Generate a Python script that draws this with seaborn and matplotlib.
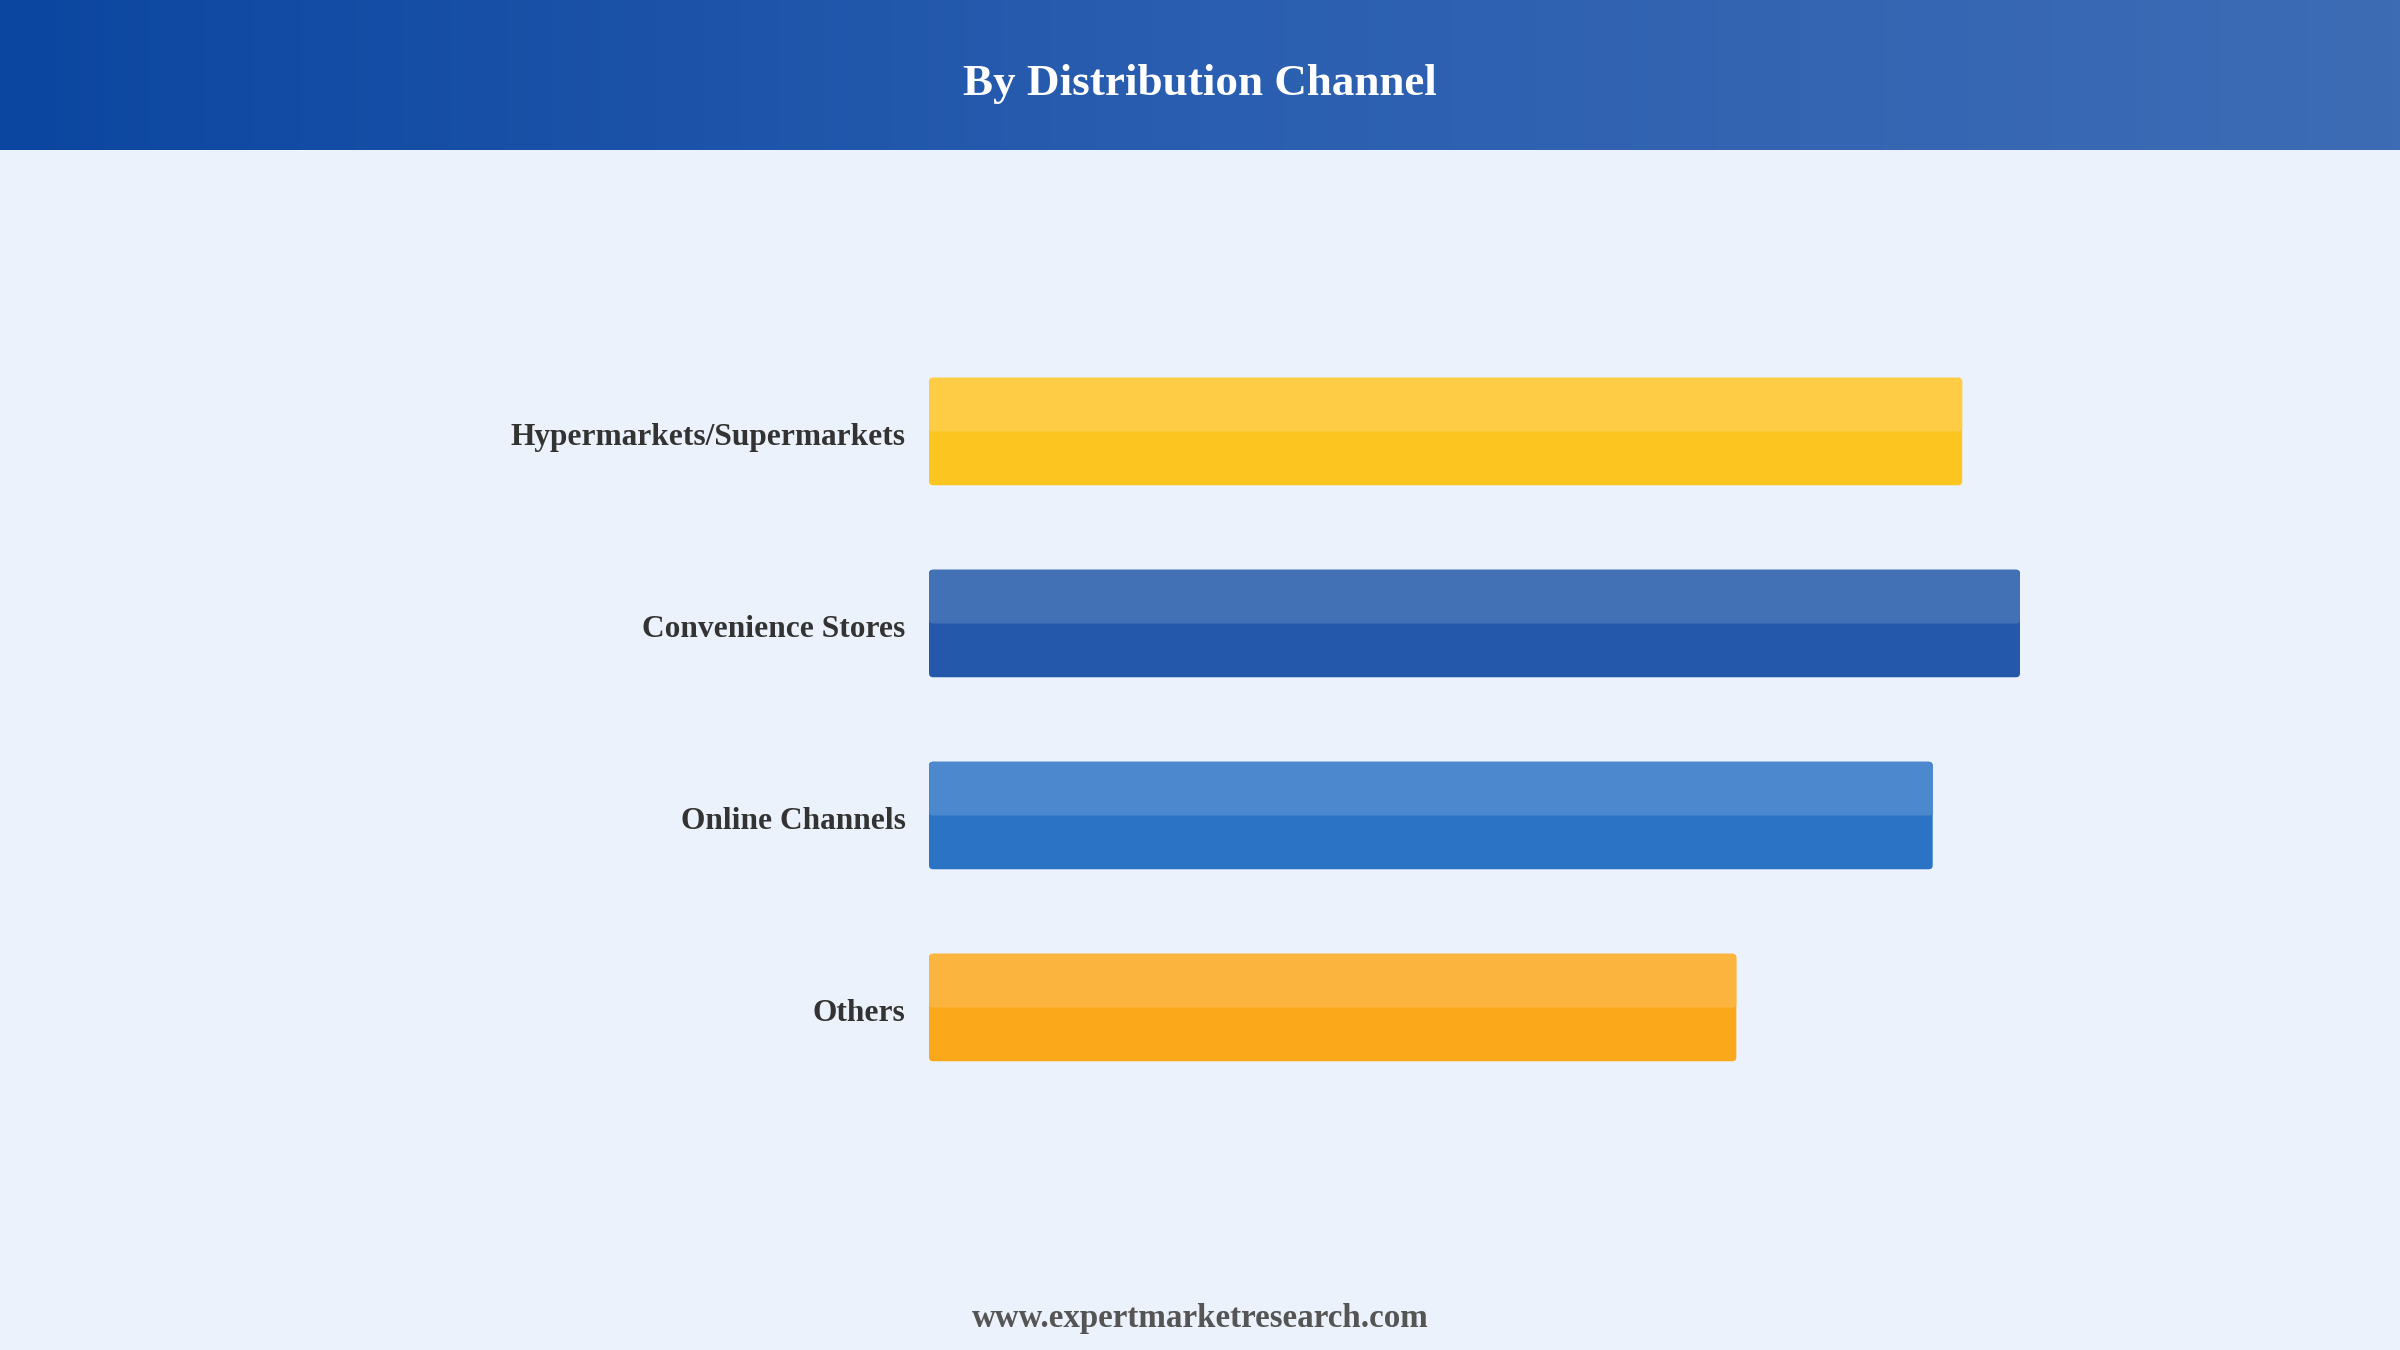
import numpy as np
import matplotlib
matplotlib.use('Agg')
import matplotlib.pyplot as plt
import seaborn as sns
from matplotlib.patches import FancyBboxPatch
from matplotlib.transforms import ScaledTranslation

# Data
categories = ['Hypermarkets/Supermarkets', 'Convenience Stores', 'Online Channels', 'Others']
values = [94.7, 100.0, 92.0, 74.0]

# Styles
bar_colors = ['#FDC520', '#2358AA', '#2B74C5', '#FBA81A']
top_colors = ['#FECD45', '#4272B5', '#4B88CE', '#FBB43E']
bg_color = '#EBF2FB'

sns.set_theme(style='white')
plt.rcParams['font.family'] = ['Liberation Serif', 'DejaVu Serif']

fig = plt.figure(figsize=(24, 13.5), dpi=100)
fig.patch.set_facecolor(bg_color)

# Header band with horizontal gradient
hdr = fig.add_axes([0, 1 - 150 / 1350, 1, 150 / 1350])
grad = np.linspace(0, 1, 512).reshape(1, -1)
cmap = matplotlib.colors.LinearSegmentedColormap.from_list('hdr', ['#0B46A0', '#2A5EB0', '#3D6CB5'])
hdr.imshow(grad, aspect='auto', cmap=cmap, extent=[0, 1, 0, 1])
hdr.set_axis_off()
hdr.text(0.5, 0.44, 'By Distribution Channel', ha='center', va='center',
         color='white', fontsize=32.5, fontweight='bold', transform=hdr.transAxes)

# Main bar axes
ax = fig.add_axes([929 / 2400, 1 - 1103.5 / 1350, (2020 - 929) / 2400, 768 / 1350])
ax.set_facecolor(bg_color)
sns.barplot(x=values, y=categories, hue=categories, palette=bar_colors,
            orient='h', width=0.56, legend=False, ax=ax)
ax.set_xlim(0, max(values))
ax.set_ylim(3.5, -0.5)

# Replace bars with rounded versions plus lighter top half
r = 0.37
aspect = 0.021 / 0.37
for patch, c, tc in zip(list(ax.patches), bar_colors, top_colors):
    x0, y0 = patch.get_x(), patch.get_y()
    w, h = patch.get_width(), patch.get_height()
    patch.set_visible(False)
    ax.add_patch(FancyBboxPatch((x0, y0), w, h, boxstyle=f'round,pad=0,rounding_size={r}',
                                mutation_aspect=aspect, facecolor=c, edgecolor='none', zorder=2))
    ax.add_patch(FancyBboxPatch((x0, y0), w, h / 2, boxstyle=f'round,pad=0,rounding_size={r}',
                                mutation_aspect=aspect, facecolor=tc, edgecolor='none', zorder=3))

ax.set_xticks([])
ax.set_xlabel('')
ax.set_ylabel('')
ax.tick_params(axis='y', length=0, pad=17)
shift = ScaledTranslation(0, -2 / 72, fig.dpi_scale_trans)
for lbl in ax.get_yticklabels():
    lbl.set_fontsize(22.6)
    lbl.set_fontweight('bold')
    lbl.set_color('#333333')
    lbl.set_transform(lbl.get_transform() + shift)
sns.despine(ax=ax, left=True, bottom=True)

# Footer
fig.text(0.5, 1 - 1318 / 1350, 'www.expertmarketresearch.com', ha='center', va='center',
         fontsize=23.8, fontweight='bold', color='#555555')

fig.savefig('out.png', dpi=100, facecolor=fig.get_facecolor())
